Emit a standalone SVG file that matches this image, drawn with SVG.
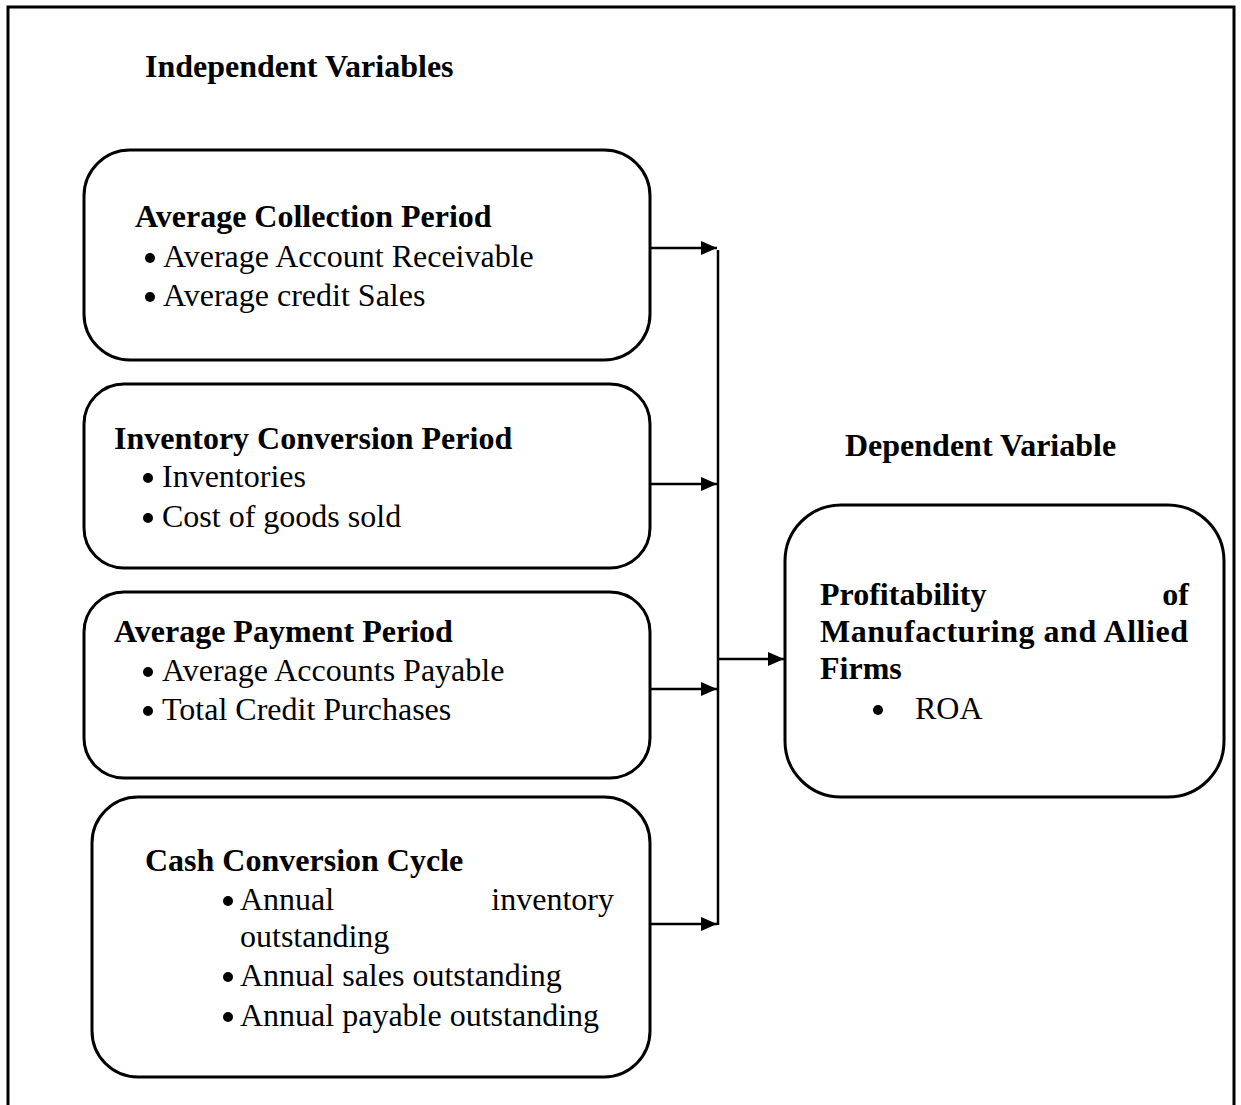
<svg xmlns="http://www.w3.org/2000/svg" width="1241" height="1105" viewBox="0 0 1241 1105">
<defs>
<style>
.b{font-family:"Liberation Serif","Times New Roman",serif;font-weight:bold;font-size:32px;fill:#000}
.r{font-family:"Liberation Serif","Times New Roman",serif;font-size:32px;fill:#000}
.dot{fill:#000}
.box{fill:#fff;stroke:#000;stroke-width:3}
.ln{stroke:#000;stroke-width:2.5;fill:none}
</style>
<marker id="ah2" viewBox="0 0 16 14" refX="16" refY="7" markerWidth="16" markerHeight="14" markerUnits="userSpaceOnUse" orient="auto">
<path d="M0,0 L16,7 L0,14 z" fill="#000"/>
</marker>
</defs>
<rect x="0" y="0" width="1241" height="1105" fill="#fff"/>
<path d="M8,1105 V7 H1234 V1105" fill="none" stroke="#000" stroke-width="3"/>
<text class="b" x="145" y="77">Independent Variables</text>
<text class="b" x="845" y="456">Dependent Variable</text>
<g id="node1">
<rect class="box" x="84" y="150" width="566" height="210" rx="46"/>
<text class="b" x="135" y="227">Average Collection Period</text>
<circle class="dot" cx="150" cy="258" r="5"/><text class="r" x="163" y="267">Average Account Receivable</text>
<circle class="dot" cx="150" cy="297" r="5"/><text class="r" x="163" y="306">Average credit Sales</text>
</g>
<g id="node2">
<rect class="box" x="84" y="384" width="566" height="184" rx="40"/>
<text class="b" x="114" y="449">Inventory Conversion Period</text>
<circle class="dot" cx="148" cy="478" r="5"/><text class="r" x="162" y="487">Inventories</text>
<circle class="dot" cx="148" cy="518" r="5"/><text class="r" x="162" y="527">Cost of goods sold</text>
</g>
<g id="node3">
<rect class="box" x="84" y="592" width="566" height="186" rx="40"/>
<text class="b" x="114" y="642">Average Payment Period</text>
<circle class="dot" cx="148" cy="672" r="5"/><text class="r" x="162" y="681">Average Accounts Payable</text>
<circle class="dot" cx="148" cy="711" r="5"/><text class="r" x="162" y="720">Total Credit Purchases</text>
</g>
<g id="node4">
<rect class="box" x="92" y="797" width="558" height="280" rx="46"/>
<text class="b" x="145" y="871">Cash Conversion Cycle</text>
<circle class="dot" cx="228" cy="901" r="5"/><text class="r" x="240" y="910">Annual</text>
<text class="r" x="614" y="910" text-anchor="end">inventory</text>
<text class="r" x="240" y="947">outstanding</text>
<circle class="dot" cx="228" cy="977" r="5"/><text class="r" x="240" y="986">Annual sales outstanding</text>
<circle class="dot" cx="228" cy="1017" r="5"/><text class="r" x="240" y="1026">Annual payable outstanding</text>
</g>
<g id="node5">
<rect class="box" x="785" y="505" width="439" height="292" rx="56"/>
<text class="b" x="820" y="605">Profitability</text>
<text class="b" x="1189" y="605" text-anchor="end">of</text>
<text class="b" x="820" y="642" textLength="368" lengthAdjust="spacing">Manufacturing and Allied</text>
<text class="b" x="820" y="679">Firms</text>
<circle class="dot" cx="878" cy="710" r="5"/><text class="r" x="915" y="719">ROA</text>
</g>
<g id="connectors">
<line class="ln" x1="718" y1="250" x2="718" y2="925"/>
<line class="ln" x1="650" y1="248" x2="717" y2="248" marker-end="url(#ah2)"/>
<line class="ln" x1="650" y1="484" x2="717" y2="484" marker-end="url(#ah2)"/>
<line class="ln" x1="650" y1="689" x2="717" y2="689" marker-end="url(#ah2)"/>
<line class="ln" x1="650" y1="924" x2="717" y2="924" marker-end="url(#ah2)"/>
<line class="ln" x1="718" y1="659" x2="784" y2="659" marker-end="url(#ah2)"/>
</g>
</svg>
